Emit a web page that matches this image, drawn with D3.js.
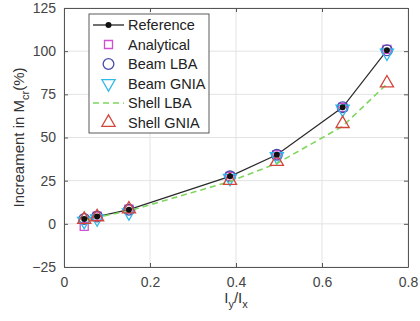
<!DOCTYPE html>
<html>
<head>
<meta charset="utf-8">
<script src="https://cdn.jsdelivr.net/npm/d3@7"></script>
<style>
  body { margin: 0; background: #fff; }
  svg { font-family: "Liberation Sans", Arial, sans-serif; }
  .grid line { stroke: #e3e3e3; stroke-width: 1; }
  .axis text { font-size: 14px; fill: #444; }
  .axis path, .axis line { stroke: #555; }
</style>
</head>
<body>
<svg id="chart" width="420" height="321"></svg>
<script>
const ratio = [0.047, 0.077, 0.151, 0.386, 0.495, 0.648, 0.751];
const reference = [2.8, 4.2, 8.2, 27.5, 40, 67.5, 100.5];
const analytical = [-1.5, 4.5, 8.5, 27.5, 40, 67.5, 101];
const beamLBA = [2.8, 4.2, 8.2, 27.5, 40, 67.5, 100.5];
const beamGNIA = [1.5, 3, 6.5, 26.5, 39, 66.5, 99];
const shellLBA = [2, 3.8, 7.5, 24.5, 35, 56.5, 81];
const shellGNIA = [2.5, 4, 8.5, 25, 36, 58, 81.5];
const xTicks = [0, 0.2, 0.4, 0.6, 0.8];
const yTicks = [-25, 0, 25, 50, 75, 100, 125];

const margin = { top: 8, right: 12, bottom: 54, left: 64 };
const width = 420, height = 321;
const w = width - margin.left - margin.right;
const h = height - margin.top - margin.bottom;

const x = d3.scaleLinear().domain([0, 0.8]).range([0, w]);
const y = d3.scaleLinear().domain([-25, 125]).range([h, 0]);

const svg = d3.select("#chart");
const g = svg.append("g").attr("transform", `translate(${margin.left},${margin.top})`);

// grid
g.append("g").attr("class", "grid")
    .selectAll("line.v").data(xTicks).join("line")
    .attr("x1", d => x(d)).attr("x2", d => x(d)).attr("y1", 0).attr("y2", h);
g.append("g").attr("class", "grid")
    .selectAll("line.h").data(yTicks).join("line")
    .attr("x1", 0).attr("x2", w).attr("y1", d => y(d)).attr("y2", d => y(d));

// axes, MATLAB style ticks pointing inward on all four sides
g.append("g").attr("class", "axis")
    .attr("transform", `translate(0,${h})`)
    .call(d3.axisBottom(x).tickValues(xTicks).tickFormat(d3.format("")).tickSizeInner(-4).tickSizeOuter(0).tickPadding(10));
g.append("g").attr("class", "axis")
    .call(d3.axisLeft(y).tickValues(yTicks).tickSizeInner(-4).tickSizeOuter(0).tickPadding(8));
g.append("g").attr("class", "axis")
    .call(d3.axisTop(x).tickValues(xTicks).tickFormat("").tickSizeInner(-4).tickSizeOuter(0));
g.append("g").attr("class", "axis")
    .attr("transform", `translate(${w},0)`)
    .call(d3.axisRight(y).tickValues(yTicks).tickFormat("").tickSizeInner(-4).tickSizeOuter(0));
g.selectAll(".axis .domain").attr("stroke", "#555");

const pts = vals => ratio.map((r, i) => [r, vals[i]]);
const line = d3.line().x(d => x(d[0])).y(d => y(d[1]));

const colors = {
    analytical: "#d24fd2",
    beamLBA: "#4a4aa8",
    beamGNIA: "#2fb8ea",
    shellLBA: "#7fd65f",
    shellGNIA: "#d2463a"
};

const sym = {
    square: d3.symbol().type(d3.symbolSquare).size(64),
    circle: d3.symbol().type(d3.symbolCircle).size(90),
    tri: d3.symbol().type(d3.symbolTriangle).size(75)
};

function markers(vals, path, color, rot) {
    g.append("g").selectAll("path").data(pts(vals)).join("path")
        .attr("d", path)
        .attr("transform", d => `translate(${x(d[0])},${y(d[1])}) rotate(${rot || 0})`)
        .attr("fill", "none").attr("stroke", color).attr("stroke-width", 1.3);
}

// reference line
g.append("path").datum(pts(reference)).attr("d", line)
    .attr("fill", "none").attr("stroke", "#2a2a2a").attr("stroke-width", 1.2);

markers(analytical, sym.square(), colors.analytical);
markers(beamLBA, sym.circle(), colors.beamLBA);
markers(beamGNIA, sym.tri(), colors.beamGNIA, 180);

g.append("path").datum(pts(shellLBA)).attr("d", line)
    .attr("fill", "none").attr("stroke", colors.shellLBA)
    .attr("stroke-width", 1.6).attr("stroke-dasharray", "6,4");

markers(shellGNIA, sym.tri(), colors.shellGNIA);

g.append("g").selectAll("circle").data(pts(reference)).join("circle")
    .attr("cx", d => x(d[0])).attr("cy", d => y(d[1])).attr("r", 3)
    .attr("fill", "#111");

// legend
const legendItems = [
    { name: "Reference", kind: "refline" },
    { name: "Analytical", kind: "square", color: colors.analytical },
    { name: "Beam LBA", kind: "circle", color: colors.beamLBA },
    { name: "Beam GNIA", kind: "tridown", color: colors.beamGNIA },
    { name: "Shell LBA", kind: "dash", color: colors.shellLBA },
    { name: "Shell GNIA", kind: "tri", color: colors.shellGNIA }
];

const lg = svg.append("g").attr("transform", "translate(89,14)");
lg.append("rect").attr("width", 120).attr("height", 119)
    .attr("fill", "#fff").attr("stroke", "#333").attr("stroke-width", 0.8);

legendItems.forEach((it, i) => {
    const row = lg.append("g").attr("transform", `translate(0,${11 + i * 19.5})`);
    if (it.kind === "refline") {
        row.append("line").attr("x1", 4).attr("x2", 35).attr("stroke", "#111").attr("stroke-width", 1.2);
        row.append("circle").attr("cx", 19.5).attr("r", 3).attr("fill", "#111");
    } else if (it.kind === "dash") {
        row.append("line").attr("x1", 4).attr("x2", 35).attr("stroke", it.color)
            .attr("stroke-width", 1.6).attr("stroke-dasharray", "6,4");
    } else {
        const p = it.kind === "square" ? sym.square() : it.kind === "circle" ? sym.circle() : sym.tri();
        row.append("path").attr("d", p)
            .attr("transform", `translate(19.5,0) rotate(${it.kind === "tridown" ? 180 : 0})`)
            .attr("fill", "none").attr("stroke", it.color).attr("stroke-width", 1.3);
    }
    row.append("text").attr("x", 39).attr("dy", "0.35em")
        .attr("font-size", 14.5).attr("fill", "#222").text(it.name);
});

// axis labels
const xl = svg.append("text").attr("x", margin.left + x(0.4)).attr("y", 303)
    .attr("text-anchor", "middle").attr("font-size", 15).attr("fill", "#333");
xl.append("tspan").text("I");
xl.append("tspan").attr("font-size", 11).attr("dy", 5).text("y");
xl.append("tspan").attr("dy", -5).text("/I");
xl.append("tspan").attr("font-size", 11).attr("dy", 5).text("x");

const yl = svg.append("text")
    .attr("transform", `translate(24,${margin.top + h / 2}) rotate(-90)`)
    .attr("text-anchor", "middle").attr("font-size", 15).attr("fill", "#333");
yl.append("tspan").text("Increament in M");
yl.append("tspan").attr("font-size", 11).attr("dy", 5).text("cr");
yl.append("tspan").attr("dy", -5).text("(%)");
</script>
</body>
</html>
